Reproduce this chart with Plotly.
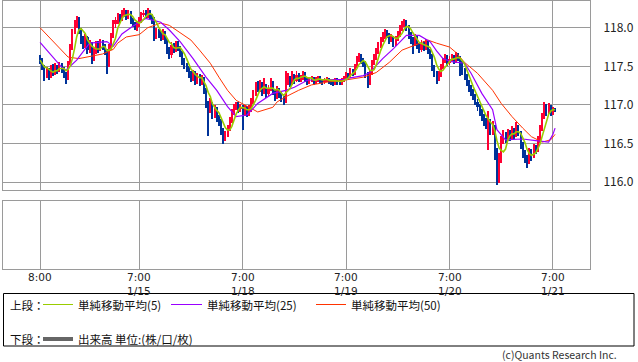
import plotly.graph_objects as go
import pandas as pd

# ---------------- data (30-minute bars, index 0 = 1/14 8:00) ----------------
first_open = 117.62
closes = [
    117.58, 117.50, 117.40, 117.45, 117.38, 117.46, 117.42, 117.50, 117.46, 117.52,
    117.48, 117.40, 117.35, 117.55, 117.75, 117.95, 118.05, 118.12, 117.98, 117.85,
    117.78, 117.88, 117.72, 117.80, 117.62, 117.70, 117.78, 117.72, 117.82, 117.76,
    117.70, 117.52, 117.75, 117.90, 118.05, 118.10, 118.15, 118.12, 118.18, 118.22,
    118.15, 118.20, 118.10, 118.05, 118.00, 118.04, 118.10, 118.18, 118.20, 118.16,
    118.22, 118.15, 118.12, 117.90, 117.95, 117.92, 117.88, 117.95, 117.85, 117.72,
    117.65, 117.78, 117.72, 117.80, 117.74, 117.68, 117.58, 117.52, 117.48, 117.40,
    117.35, 117.42, 117.32, 117.38, 117.30, 117.35, 117.20, 117.02, 116.95, 117.02,
    116.88, 116.95, 116.85, 116.80, 116.68, 116.58, 116.62, 116.70, 116.80, 116.92,
    116.98, 117.02, 116.95, 116.98, 116.90, 116.96, 116.90, 116.95, 117.05, 117.15,
    117.25, 117.22, 117.28, 117.18, 117.25, 117.15, 117.22, 117.30, 117.18, 117.12,
    117.20, 117.15, 117.08, 117.05, 117.30, 117.35, 117.28, 117.38, 117.32, 117.40,
    117.34, 117.36, 117.42, 117.35, 117.30, 117.32, 117.35, 117.30, 117.34, 117.36,
    117.32, 117.30, 117.33, 117.35, 117.31, 117.30, 117.28, 117.33, 117.30, 117.29,
    117.32, 117.35, 117.40, 117.38, 117.45, 117.42, 117.50, 117.60, 117.65, 117.58,
    117.55, 117.40, 117.30, 117.42, 117.55, 117.62, 117.70, 117.78, 117.85, 117.90,
    117.96, 117.92, 117.85, 117.88, 117.80, 117.86, 117.92, 118.00, 118.05, 118.08,
    118.02, 117.92, 117.85, 117.80, 117.88, 117.78, 117.72, 117.80, 117.75, 117.82,
    117.70, 117.65, 117.50, 117.42, 117.35, 117.40, 117.50, 117.58, 117.62, 117.55,
    117.60, 117.62, 117.58, 117.66, 117.62, 117.55, 117.45, 117.38, 117.30, 117.22,
    117.18, 117.12, 117.05, 116.98, 116.92, 116.85, 116.80, 116.75, 116.78, 116.70,
    116.72, 116.40, 116.10, 116.30, 116.55, 116.62, 116.58, 116.65, 116.60, 116.68,
    116.62, 116.72, 116.65, 116.50, 116.38, 116.32, 116.28, 116.40, 116.35, 116.45,
    116.42, 116.55, 116.70, 116.85, 116.95, 116.92, 116.98, 116.90, 116.95, 116.94,
]
highs = [
    117.65, 117.61, 117.53, 117.50, 117.48, 117.52, 117.54, 117.55, 117.53, 117.56,
    117.55, 117.50, 117.43, 117.58, 117.79, 117.99, 118.10, 118.16, 118.14, 118.00,
    117.90, 117.92, 117.90, 117.85, 117.82, 117.74, 117.84, 117.83, 117.86, 117.85,
    117.80, 117.73, 117.79, 117.94, 118.10, 118.15, 118.20, 118.19, 118.23, 118.26,
    118.24, 118.24, 118.22, 118.13, 118.08, 118.08, 118.14, 118.21, 118.24, 118.23,
    118.26, 118.24, 118.18, 118.14, 118.00, 117.99, 117.96, 117.99, 117.97, 117.87,
    117.76, 117.82, 117.81, 117.84, 117.83, 117.77, 117.70, 117.62, 117.55, 117.51,
    117.44, 117.46, 117.45, 117.42, 117.41, 117.39, 117.37, 117.23, 117.06, 117.10,
    117.05, 117.00, 116.98, 116.88, 116.83, 116.71, 116.67, 116.75, 116.85, 116.96,
    117.02, 117.05, 117.04, 117.02, 117.00, 117.00, 116.99, 117.00, 117.10, 117.20,
    117.30, 117.32, 117.33, 117.30, 117.36, 117.28, 117.27, 117.35, 117.32, 117.21,
    117.25, 117.23, 117.18, 117.12, 117.45, 117.42, 117.38, 117.44, 117.41, 117.44,
    117.42, 117.40, 117.45, 117.43, 117.37, 117.36, 117.38, 117.37, 117.37, 117.38,
    117.38, 117.34, 117.36, 117.37, 117.36, 117.33, 117.32, 117.35, 117.35, 117.33,
    117.35, 117.38, 117.43, 117.42, 117.48, 117.47, 117.54, 117.64, 117.68, 117.67,
    117.61, 117.57, 117.43, 117.46, 117.59, 117.66, 117.74, 117.82, 117.89, 117.95,
    117.99, 117.98, 117.94, 117.92, 117.90, 117.90, 117.96, 118.04, 118.09, 118.12,
    118.10, 118.04, 117.95, 117.88, 117.92, 117.90, 117.81, 117.85, 117.83, 117.86,
    117.84, 117.73, 117.67, 117.53, 117.45, 117.45, 117.54, 117.62, 117.67, 117.65,
    117.64, 117.67, 117.65, 117.69, 117.68, 117.64, 117.58, 117.48, 117.41, 117.33,
    117.26, 117.21, 117.15, 117.08, 117.02, 116.95, 116.89, 116.84, 116.93, 116.82,
    116.80, 116.75, 116.45, 116.38, 116.60, 116.68, 116.66, 116.70, 116.68, 116.73,
    116.71, 116.78, 116.75, 116.67, 116.53, 116.42, 116.36, 116.45, 116.44, 116.50,
    116.49, 116.60, 116.75, 116.90, 117.04, 117.02, 117.03, 117.01, 116.98, 116.97,
]
lows = [
    117.54, 117.46, 117.32, 117.36, 117.33, 117.35, 117.38, 117.39, 117.41, 117.43,
    117.42, 117.36, 117.28, 117.33, 117.52, 117.72, 117.92, 118.00, 117.92, 117.80,
    117.73, 117.74, 117.66, 117.68, 117.54, 117.58, 117.67, 117.68, 117.70, 117.72,
    117.65, 117.41, 117.50, 117.72, 117.87, 118.00, 118.06, 118.07, 118.09, 118.14,
    118.10, 118.12, 118.06, 118.01, 117.98, 117.97, 118.01, 118.07, 118.14, 118.12,
    118.13, 118.11, 118.06, 117.84, 117.86, 117.87, 117.83, 117.85, 117.80, 117.66,
    117.60, 117.62, 117.68, 117.69, 117.70, 117.63, 117.53, 117.47, 117.43, 117.35,
    117.30, 117.32, 117.27, 117.28, 117.25, 117.26, 117.15, 116.97, 116.61, 116.90,
    116.82, 116.84, 116.78, 116.74, 116.62, 116.50, 116.54, 116.59, 116.67, 116.77,
    116.88, 116.94, 116.90, 116.91, 116.68, 116.86, 116.85, 116.86, 116.92, 117.02,
    117.12, 117.17, 117.18, 117.12, 117.15, 117.10, 117.12, 117.19, 117.13, 117.06,
    117.09, 117.10, 117.04, 117.00, 117.03, 117.27, 117.24, 117.26, 117.28, 117.30,
    117.30, 117.31, 117.33, 117.31, 117.26, 117.28, 117.30, 117.27, 117.28, 117.31,
    117.29, 117.27, 117.28, 117.31, 117.28, 117.27, 117.25, 117.26, 117.27, 117.26,
    117.27, 117.30, 117.33, 117.35, 117.36, 117.38, 117.40, 117.48, 117.56, 117.54,
    117.50, 117.35, 117.23, 117.27, 117.40, 117.52, 117.59, 117.67, 117.75, 117.82,
    117.86, 117.87, 117.80, 117.82, 117.76, 117.77, 117.83, 117.89, 117.97, 118.01,
    117.97, 117.86, 117.80, 117.67, 117.77, 117.73, 117.68, 117.69, 117.70, 117.72,
    117.66, 117.60, 117.45, 117.37, 117.28, 117.32, 117.37, 117.47, 117.55, 117.51,
    117.52, 117.57, 117.54, 117.55, 117.58, 117.38, 117.40, 117.33, 117.25, 117.17,
    117.12, 117.07, 117.00, 116.93, 116.87, 116.80, 116.74, 116.70, 116.42, 116.62,
    116.62, 116.30, 115.97, 116.00, 116.25, 116.50, 116.52, 116.54, 116.54, 116.56,
    116.57, 116.59, 116.60, 116.44, 116.32, 116.25, 116.19, 116.24, 116.28, 116.32,
    116.37, 116.40, 116.52, 116.67, 116.82, 116.87, 116.89, 116.87, 116.88, 116.91,
]
opens = [first_open] + closes[:-1]
bar_idx = list(range(len(closes)))

# moving averages (25 / 50 use data before the window)
ma25_idx = [0, 10, 12, 17, 23, 31, 34, 38, 43, 49, 56, 60, 65, 71, 77, 82, 87, 91, 96, 101,
            108, 114, 118, 124, 131, 141, 144, 150, 153, 159, 164, 170, 176, 181, 184, 187,
            191, 197, 200, 205, 210, 212, 216, 224, 230, 236, 238, 239]
ma25_val = [117.81, 117.49, 117.45, 117.58, 117.80, 117.82, 117.76, 117.92, 118.02, 118.12,
            118.07, 117.97, 117.82, 117.60, 117.36, 117.19, 116.98, 116.85, 116.87, 117.02,
            117.15, 117.19, 117.23, 117.32, 117.33, 117.33, 117.35, 117.38, 117.42, 117.60,
            117.73, 117.90, 117.90, 117.82, 117.70, 117.60, 117.56, 117.54, 117.41, 117.15,
            116.94, 116.68, 116.55, 116.56, 116.54, 116.52, 116.62, 116.70]
ma50_idx = [0, 13, 18, 25, 29, 34, 36, 40, 46, 50, 56, 60, 65, 70, 74, 79, 83, 87, 91, 96,
            101, 108, 110, 115, 120, 126, 134, 141, 150, 156, 162, 168, 175, 180, 184, 190,
            193, 197, 203, 210, 214, 219, 224, 228, 233, 237, 239]
ma50_val = [118.00, 117.62, 117.60, 117.64, 117.66, 117.72, 117.80, 117.88, 117.91, 118.00,
            118.06, 118.03, 117.94, 117.84, 117.71, 117.54, 117.36, 117.19, 117.06, 116.98,
            116.91, 116.97, 117.04, 117.12, 117.19, 117.26, 117.30, 117.32, 117.36, 117.42,
            117.55, 117.71, 117.79, 117.84, 117.80, 117.75, 117.68, 117.55, 117.41, 117.19,
            117.02, 116.85, 116.70, 116.59, 116.52, 116.55, 116.62]

tick_idx = [0, 46, 94, 142, 190, 238]
tick_time = ["8:00", "7:00", "7:00", "7:00", "7:00", "7:00"]
tick_date = ["", "1/15", "1/18", "1/19", "1/20", "1/21"]
price_ticks = [116.0, 116.5, 117.0, 117.5, 118.0]

# ---------------- styling ----------------
W, H = 638, 362
RED, BLUE = "#ff0033", "#003399"
C_MA5, C_MA25, C_MA50 = "#99cc00", "#9900ff", "#ff3300"
GRID = "#9a9a9a"
FONT = "Noto Sans CJK JP"
TFONT = "DejaVu Sans"


def px(x):
    return x / W


def py(y):
    return 1 - y / H


ma5 = pd.Series(closes).rolling(5, min_periods=1).mean().tolist()

up = [i for i in bar_idx if closes[i] >= opens[i]]
dn = [i for i in bar_idx if closes[i] < opens[i]]

fig = go.Figure()
for sel, col in ((up, RED), (dn, BLUE)):
    fig.add_trace(go.Bar(
        x=sel, base=[lows[i] for i in sel], y=[highs[i] - lows[i] for i in sel],
        width=0.45, marker=dict(color=col, line=dict(width=0)), hoverinfo="skip"))
    fig.add_trace(go.Bar(
        x=sel, base=[min(opens[i], closes[i]) for i in sel],
        y=[max(abs(closes[i] - opens[i]), 0.006) for i in sel],
        width=0.95, marker=dict(color=col, line=dict(width=0)), hoverinfo="skip"))

fig.add_trace(go.Scatter(x=ma50_idx, y=ma50_val, mode="lines",
                         line=dict(color=C_MA50, width=1), hoverinfo="skip"))
fig.add_trace(go.Scatter(x=ma25_idx, y=ma25_val, mode="lines",
                         line=dict(color=C_MA25, width=1.2), hoverinfo="skip"))
fig.add_trace(go.Scatter(x=bar_idx, y=ma5, mode="lines",
                         line=dict(color=C_MA5, width=1.6), hoverinfo="skip"))
fig.add_trace(go.Scatter(x=[], y=[], xaxis="x2", yaxis="y2", hoverinfo="skip"))

xr = [-17.2, 255.2]
axis_common = dict(showline=True, linecolor=GRID, linewidth=1, mirror=True, zeroline=False)

fig.update_layout(
    width=W, height=H, margin=dict(l=0, r=0, t=0, b=0),
    paper_bgcolor="white", plot_bgcolor="white", showlegend=False,
    barmode="overlay", bargap=0,
    font=dict(family=FONT, size=11, color="#222"),
    xaxis=dict(domain=[px(3), px(590)], range=xr, tickvals=tick_idx, showticklabels=False,
               showgrid=True, gridcolor=GRID, gridwidth=1, ticks="", **axis_common),
    yaxis=dict(domain=[py(190), py(0.5)], range=[115.90, 118.352], side="right",
               tickvals=price_ticks, tickformat=".1f", showgrid=True, gridcolor=GRID,
               gridwidth=1, ticks="", ticklabelstandoff=10,
               tickfont=dict(family=FONT, size=12, color="#222"), **axis_common),
    xaxis2=dict(domain=[px(3), px(590)], range=xr, anchor="y2", tickvals=tick_idx,
                showticklabels=False, showgrid=True, gridcolor=GRID, gridwidth=1, ticks="",
                **axis_common),
    yaxis2=dict(domain=[py(269), py(201)], range=[0, 1], anchor="x2", showgrid=False,
                showticklabels=False, ticks="", **axis_common),
)

# time-axis labels (time over date) placed at the tick positions of the lower panel
for t, tm, dt in zip(tick_idx, tick_time, tick_date):
    fig.add_annotation(text=tm, x=t, xref="x2", y=py(277), yref="paper",
                       xanchor="center", yanchor="middle", showarrow=False, borderpad=0,
                       font=dict(family=TFONT, size=10.5, color="#222"))
    if dt:
        fig.add_annotation(text=dt, x=t, xref="x2", y=py(290.5), yref="paper",
                           xanchor="center", yanchor="middle", showarrow=False, borderpad=0,
                           font=dict(family=TFONT, size=10.5, color="#222"))

shapes = [
    dict(type="rect", xref="paper", yref="paper", x0=px(3.5), x1=px(634), y0=py(346), y1=py(293.5),
         line=dict(color="#000", width=1)),
    dict(type="line", xref="paper", yref="paper", x0=px(43), x1=px(73), y0=py(304.5), y1=py(304.5),
         line=dict(color=C_MA5, width=1)),
    dict(type="line", xref="paper", yref="paper", x0=px(171), x1=px(202), y0=py(304.5), y1=py(304.5),
         line=dict(color=C_MA25, width=1)),
    dict(type="line", xref="paper", yref="paper", x0=px(316), x1=px(346), y0=py(304.5), y1=py(304.5),
         line=dict(color=C_MA50, width=1)),
    dict(type="line", xref="paper", yref="paper", x0=px(43), x1=px(73), y0=py(339), y1=py(339),
         line=dict(color="#666", width=4)),
]
fig.update_layout(shapes=shapes)

ann = [
    ("上段：", 9, 304.5), ("単純移動平均(5)", 77, 304.5), ("単純移動平均(25)", 206, 304.5),
    ("単純移動平均(50)", 350, 304.5), ("下段：", 9, 339), ("出来高 単位:(株/口/枚)", 77, 339),
]
for text, x, y in ann:
    fig.add_annotation(text=text, x=px(x), y=py(y), xref="paper", yref="paper",
                       xanchor="left", yanchor="middle", showarrow=False, borderpad=0,
                       font=dict(family=FONT, size=11.5, color="#111"))
fig.add_annotation(text="(c)Quants Research Inc.", x=px(618), y=py(354.5), xref="paper", yref="paper",
                   xanchor="right", yanchor="middle", showarrow=False, borderpad=0,
                   font=dict(family=FONT, size=10.5, color="#333"))

fig.write_html(
    "out.html",
    config={"displayModeBar": False},
    post_script="document.body.style.margin='0px';document.body.style.overflow='hidden';",
)
